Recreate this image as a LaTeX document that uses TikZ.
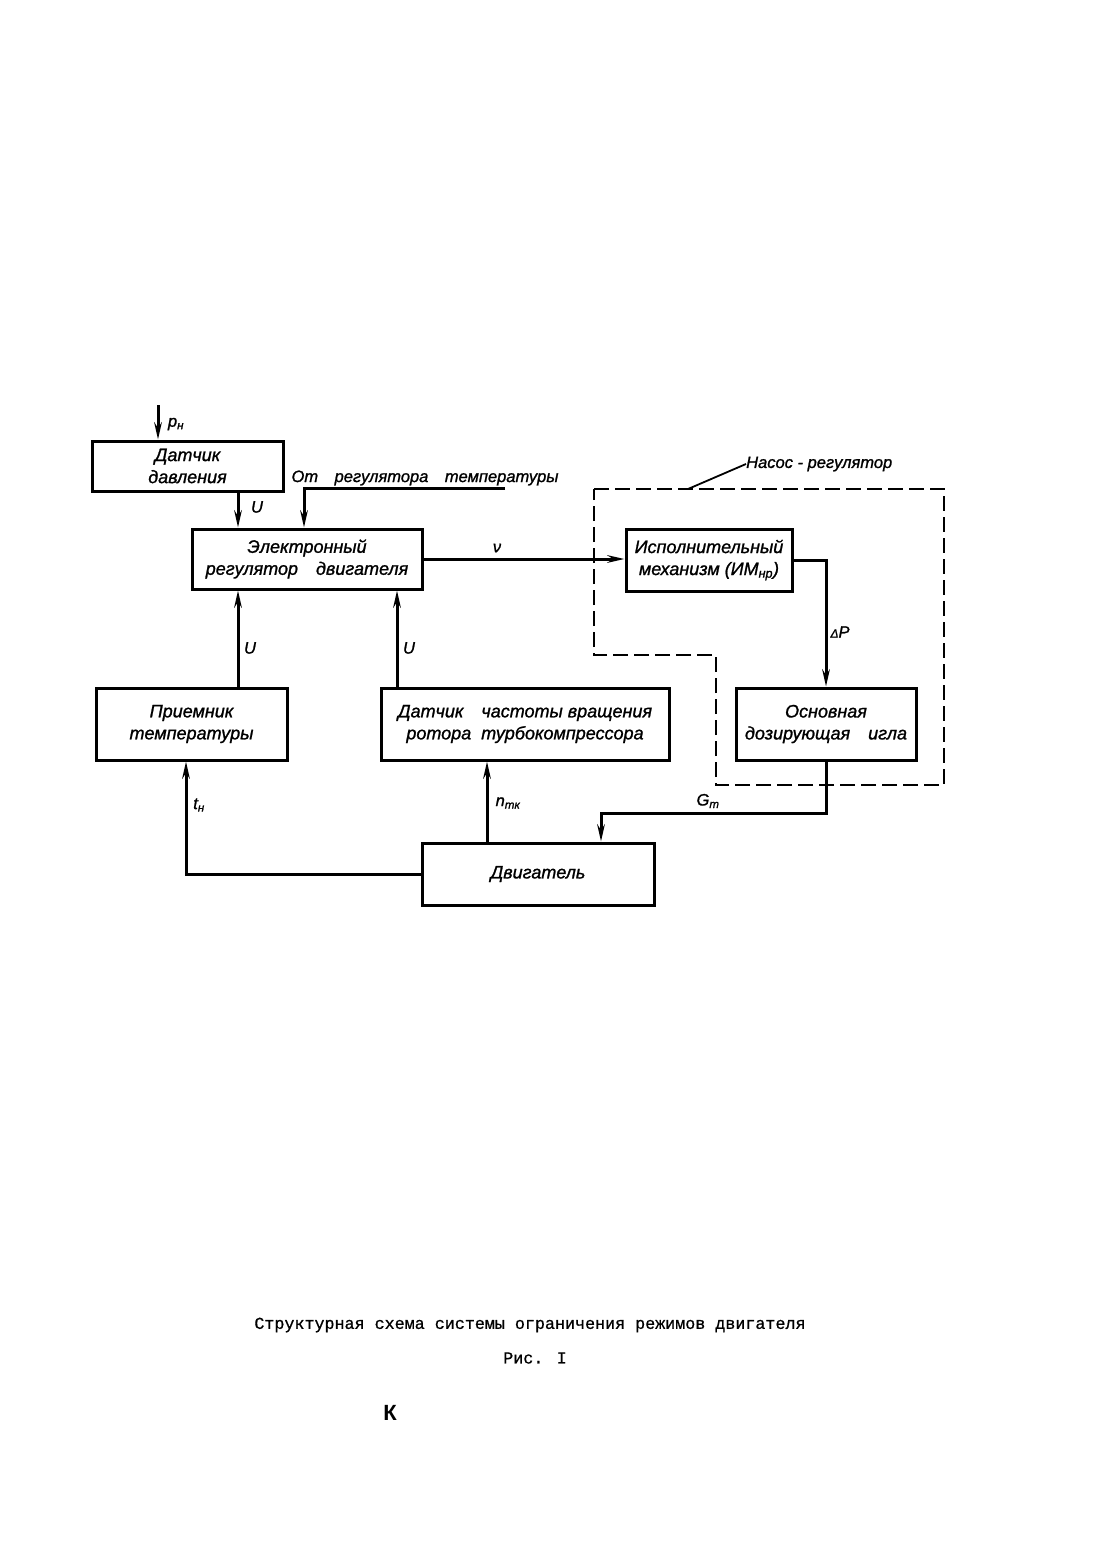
\documentclass[tikz,border=0pt]{standalone}
\usepackage{fontspec}
\setmainfont{Liberation Sans}
\newfontfamily\boxfont[FakeBold=1.2]{Liberation Sans}
\newfontfamily\capfont[FakeBold=0.8]{Liberation Mono}
\usetikzlibrary{arrows.meta}
\begin{document}
\begin{tikzpicture}[x=1pt,y=-1pt,
  blk/.style={draw,line width=3pt,inner sep=0pt,align=center,
    font=\boxfont\fontsize{18}{22}\selectfont\itshape},
  lbl/.style={inner sep=0pt,font=\boxfont\fontsize{16.5}{19}\selectfont\itshape},
  arr/.style={line width=3pt,-{Stealth[length=17pt,width=7.5pt]}},
  dsh/.style={line width=2.6pt,dash pattern=on 15pt off 6pt},
  capt/.style={inner sep=0pt,font=\capfont\fontsize{16.7}{20}\selectfont}]
\useasboundingbox (0,0) rectangle (1114,1562);
% blocks
\node[blk,minimum width=191pt,minimum height=50pt] (dd) at (187.5,466) {Датчик\\давления};
\node[blk,minimum width=230pt,minimum height=60pt] (er) at (307,559) {Электронный\\регулятор\quad двигателя};
\node[blk,minimum width=166pt,minimum height=62pt] (im) at (709,560) {Исполнительный\\механизм (ИМ\textsubscript{нр})};
\node[blk,minimum width=180pt,minimum height=72pt] (od) at (826,724) {Основная\\дозирующая\quad игла};
\node[blk,minimum width=191pt,minimum height=72pt] (pt) at (191.5,724) {Приемник\\температуры};
\node[blk,minimum width=288pt,minimum height=72pt] (dch) at (525,724) {Датчик\quad частоты вращения\\ротора\ \ турбокомпрессора};
\node[blk,minimum width=232pt,minimum height=62pt] (dv) at (538,874) {Двигатель};
% labels
\node[lbl] (lp) at (176,424) {p\textsubscript{н}};
\node[lbl] (lu1) at (257,507) {U};
\node[lbl] (tr) at (425,478) {От\quad регулятора\quad температуры};
\node[lbl] (lnu) at (497,548) {ν};
\node[lbl] (ldp) at (840,632) {\fontsize{12}{14}\selectfont Δ\fontsize{16.5}{19}\selectfont P};
\node[lbl] (lg) at (708,801) {G\textsubscript{т}};
\node[lbl] (lt) at (199,805) {t\textsubscript{н}};
\node[lbl] (ln) at (508,803) {n\textsubscript{тк}};
\node[lbl] (lu2) at (250,648) {U};
\node[lbl] (lu3) at (409,648) {U};
\node[lbl,anchor=west] (nasos) at (746,464) {Насос - регулятор};
% coordinates
\coordinate (ptop) at (158,405);
\coordinate (cA) at (238,0);
\coordinate (cC) at (397,0);
\coordinate (cF) at (487,0);
\coordinate (tr0) at (505,488);
\coordinate (trc) at (304,488);
\coordinate (gk) at (601,813);
\coordinate (tk) at (186,0);
\coordinate (lead) at (688,489);
% connectors
\draw[arr] (ptop) -- (ptop |- dd.north);
\draw[arr] (cA |- dd.south) -- (cA |- er.north);
\draw[arr] (tr0) -- (trc) -- (trc |- er.north);
\draw[arr] (er.east) -- (er.east -| im.west);
\draw[arr] (im.east) -| (od.north);
\draw[arr] (od.south) |- (gk) -- (gk |- dv.north);
\draw[arr] (dv.west) -| (tk |- pt.south);
\draw[arr] (cF |- dv.north) -- (cF |- dch.south);
\draw[arr] (cA |- pt.north) -- (cA |- er.south);
\draw[arr] (cC |- dch.north) -- (cC |- er.south);
% pump-regulator boundary
\draw[dsh] (594,489) -- (944,489) -- (944,785) -- (716,785) -- (716,655) -- (594,655) -- cycle;
\draw[line width=1.8pt] (lead) -- (nasos.west);
% caption
\node[capt] (cap) at (530,1325) {Структурная схема системы ограничения режимов двигателя};
\node[capt] (fig) at (535,1358) {Рис. I};
\node[inner sep=0pt,font=\fontsize{22}{26}\selectfont\bfseries] (kk) at (390,1413) {К};
\end{tikzpicture}
\end{document}
